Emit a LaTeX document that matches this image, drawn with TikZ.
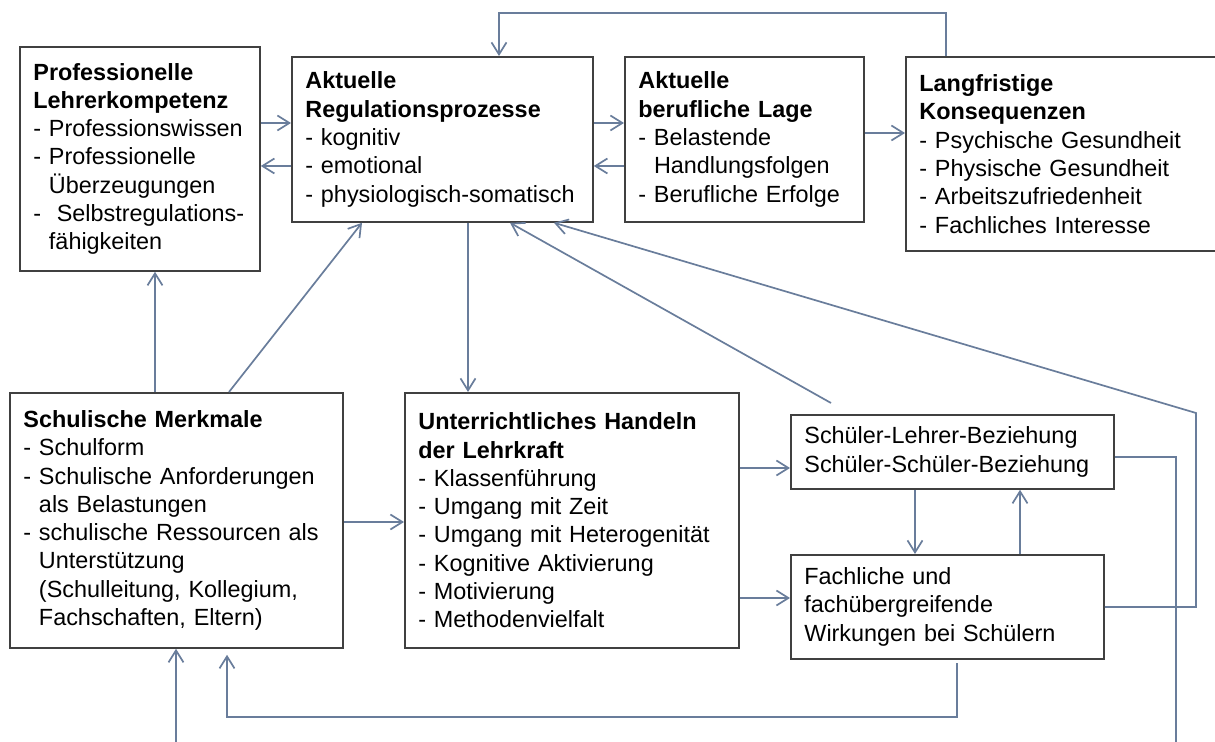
\documentclass[tikz,border=0pt]{standalone}
\usepackage{fontspec}
\setmainfont{Liberation Sans}
\usetikzlibrary{arrows.meta}

\definecolor{linkblue}{RGB}{105,125,155}
\definecolor{framegray}{RGB}{64,64,64}
\newcommand{\ind}{\hphantom{- }}

\tikzset{
  box/.style={draw=framegray, line width=0.9pt, anchor=north west, align=left,
    inner xsep=6.75pt, inner ysep=0pt, font=\fontsize{11.7}{14.15}\selectfont},
  conn/.style={draw=linkblue, line width=0.85pt, -{Straight Barb[length=6pt,width=7.5pt]}},
  link/.style={draw=linkblue, line width=0.85pt}
}

\begin{document}
\begin{tikzpicture}[x=0.5pt, y=-0.5pt]
        \clip (0,0) rectangle (1215,742);
        % boxes
        \node[box, minimum width=120pt, text width=106.5pt, minimum height=112pt] (komp) at (19,46)
            {\textbf{Professionelle}\\\textbf{Lehrerkompetenz}\\- Professionswissen\\- Professionelle\\\ind Überzeugungen\\-~~Selbstregulations-\\\ind fähigkeiten};
        \node[box, minimum width=150.5pt, text width=137pt, minimum height=82.5pt] (reg) at (291,56)
            {\textbf{Aktuelle}\\\textbf{Regulationsprozesse}\\- kognitiv\\- emotional\\- physiologisch-somatisch};
        \node[box, minimum width=119.5pt, text width=106pt, minimum height=82.5pt] (lage) at (624,56)
            {\textbf{Aktuelle}\\\textbf{berufliche Lage}\\- Belastende\\\ind Handlungsfolgen\\- Berufliche Erfolge};
        \node[box, minimum width=160pt, text width=146.5pt, minimum height=97pt] (kons) at (905,56)
            {\textbf{Langfristige}\\\textbf{Konsequenzen}\\- Psychische Gesundheit\\- Physische Gesundheit\\- Arbeitszufriedenheit\\- Fachliches Interesse};
        \node[box, minimum width=166.5pt, text width=153pt, minimum height=127.5pt] (schule) at (9,392)
            {\textbf{Schulische Merkmale}\\- Schulform\\- Schulische Anforderungen\\\ind als Belastungen\\- schulische Ressourcen als\\\ind Unterstützung\\\ind (Schulleitung, Kollegium,\\\ind Fachschaften, Eltern)};
        \node[box, minimum width=167pt, text width=153.5pt, minimum height=127.5pt] (unt) at (404,392)
            {\textbf{Unterrichtliches Handeln}\\\textbf{der Lehrkraft}\\- Klassenführung\\- Umgang mit Zeit\\- Umgang mit Heterogenität\\- Kognitive Aktivierung\\- Motivierung\\- Methodenvielfalt};
        \node[box, minimum width=161.5pt, text width=148pt, minimum height=37pt] (bez) at (790,414)
            {Schüler-Lehrer-Beziehung\\Schüler-Schüler-Beziehung};
        \node[box, minimum width=156.5pt, text width=143pt, minimum height=52pt] (wirk) at (790,554)
            {Fachliche und\\fachübergreifende\\Wirkungen bei Schülern};
        % free ends
        \coordinate (top) at (499,13);
        \coordinate (b1) at (831,403);
        \coordinate (r1) at (1196,413);
        \coordinate (w1) at (957,663);
        \coordinate (w2) at (227,717);
        % connectors
        \draw[conn] (komp.east |- 0,123) -- (reg.west |- 0,123);
        \draw[conn] (reg.west |- 0,166) -- (komp.east |- 0,166);
        \draw[conn] (reg.east |- 0,123) -- (lage.west |- 0,123);
        \draw[conn] (lage.west |- 0,166) -- (reg.east |- 0,166);
        \draw[conn] (lage.east |- 0,133) -- (kons.west |- 0,133);
        \draw[conn] (kons.north -| 946,0) |- (top) -- (top |- reg.north);
        \draw[conn] (schule.north -| 155,0) -- (komp.south -| 155,0);
        \draw[conn] (schule.north -| 229,0) -- (reg.south -| 362,0);
        \draw[conn] (reg.south -| 468,0) -- (unt.north -| 468,0);
        \draw[conn] (schule.east |- 0,522) -- (unt.west |- 0,522);
        \draw[conn] (unt.east |- 0,468) -- (bez.west |- 0,468);
        \draw[conn] (unt.east |- 0,598) -- (wirk.west |- 0,598);
        \draw[conn] (bez.south -| 915,0) -- (wirk.north -| 915,0);
        \draw[conn] (wirk.north -| 1020,0) -- (bez.south -| 1020,0);
        \draw[conn] (b1) -- (reg.south -| 510,0);
        \draw[conn] (wirk.east |- 0,607) -| (r1) -- (reg.south -| 554,0);
        \draw[link] (bez.east |- 0,457) -| (1176,750);
        \draw[conn, shorten >=3pt] (w1) |- (w2) -- (w2 |- schule.south);
        \draw[conn] (176,750) -- (schule.south -| 176,0);
\end{tikzpicture}
\end{document}
